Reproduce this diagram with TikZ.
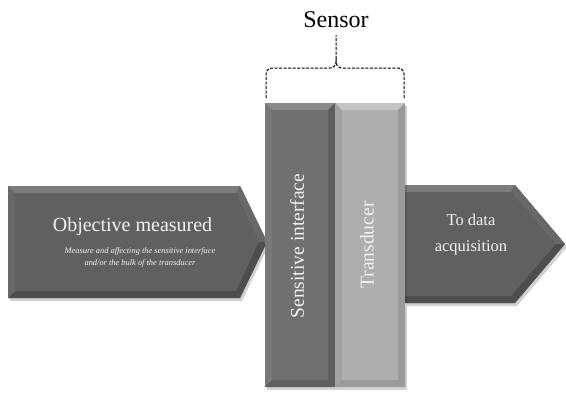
\documentclass[tikz,border=0pt]{standalone}
\usepackage{fontspec}
\setmainfont{Liberation Serif}
\definecolor{darkface}{HTML}{606060}
\definecolor{darktop}{HTML}{7C7C7C}
\definecolor{darkbot}{HTML}{4E4E4E}
\definecolor{darkside}{HTML}{686868}
\definecolor{midface}{HTML}{707070}
\definecolor{midtop}{HTML}{8A8A8A}
\definecolor{midbot}{HTML}{5E5E5E}
\definecolor{midside}{HTML}{787878}
\definecolor{lightface}{HTML}{AEAEAE}
\definecolor{lighttop}{HTML}{C4C4C4}
\definecolor{lightbot}{HTML}{9A9A9A}
\definecolor{lightside}{HTML}{A2A2A2}
\definecolor{txt}{HTML}{F2F2F2}
\tikzset{
  lbl/.style={text=txt, inner sep=0pt, align=center},
  shadowfill/.style={fill=black, opacity=0.18},
  bracket/.style={draw=black, line width=1pt, rounded corners=6pt, dash pattern=on 3pt off 1.5pt}
}
\begin{document}
\begin{tikzpicture}[x=1pt,y=-1pt]
\useasboundingbox (0,0) rectangle (566,394);
% ---------- left arrow ----------
\fill[shadowfill] (10,189) -- (242,189) -- (269,245) -- (242,301) -- (10,301) -- cycle;
\fill[darkface] (8,186) -- (240,186) -- (267,242) -- (240,298) -- (8,298) -- cycle;
\fill[darktop] (8,186) -- (240,186) -- (236,193) -- (15,193) -- cycle;
\fill[darkside] (240,186) -- (267,242) -- (259,242) -- (236,193) -- cycle;
\fill[darkbot] (267,242) -- (240,298) -- (236,291) -- (259,242) -- cycle;
\fill[darkbot] (8,298) -- (240,298) -- (236,291) -- (15,291) -- cycle;
\fill[darkside] (8,186) -- (15,193) -- (15,291) -- (8,298) -- cycle;
% ---------- right arrow ----------
\fill[shadowfill] (407,188) -- (517,188) -- (567,247) -- (517,306) -- (407,306) -- cycle;
\fill[darkface] (405,185) -- (515,185) -- (565,244) -- (515,303) -- (405,303) -- cycle;
\fill[darktop] (405,185) -- (515,185) -- (511,192) -- (405,192) -- cycle;
\fill[darkside] (515,185) -- (565,244) -- (556,244) -- (511,192) -- cycle;
\fill[darkbot] (565,244) -- (515,303) -- (511,296) -- (556,244) -- cycle;
\fill[darkbot] (405,303) -- (515,303) -- (511,296) -- (405,296) -- cycle;
% ---------- sensor blocks ----------
\fill[shadowfill] (267,106) rectangle (407,390);
% sensitive interface
\fill[midface] (265,103) rectangle (335,387);
\fill[midtop] (265,103) -- (335,103) -- (328,110) -- (272,110) -- cycle;
\fill[midside] (265,103) -- (272,110) -- (272,380) -- (265,387) -- cycle;
\fill[midbot] (335,103) -- (335,387) -- (328,380) -- (328,110) -- cycle;
\fill[midbot] (265,387) -- (335,387) -- (328,380) -- (272,380) -- cycle;
% transducer
\fill[lightface] (335,103) rectangle (405,387);
\fill[lighttop] (335,103) -- (405,103) -- (398,110) -- (342,110) -- cycle;
\fill[lightside] (335,103) -- (342,110) -- (342,380) -- (335,387) -- cycle;
\fill[lightbot] (405,103) -- (405,387) -- (398,380) -- (398,110) -- cycle;
\fill[lightbot] (335,387) -- (405,387) -- (398,380) -- (342,380) -- cycle;
% ---------- texts ----------
\node[lbl, font=\fontsize{20}{22}\selectfont] (obj) at (132.5,227) {Objective measured};
\node[lbl, font=\fontsize{8.4}{12}\itshape] (objsub) at (140,257) {Measure and affecting the sensitive interface\\and/or the bulk of the transducer};
\node[lbl, font=\fontsize{19.5}{22}\selectfont, rotate=90] (sens) at (297,246) {Sensitive interface};
\node[lbl, font=\fontsize{19.5}{22}\selectfont, rotate=90] (trans) at (367,245) {Transducer};
\node[lbl, font=\fontsize{16.5}{26}\selectfont] (out) at (471,235) {To data\\acquisition};
\node[inner sep=0pt, font=\fontsize{24}{26}\selectfont] (sensor) at (336,20) {Sensor};
% ---------- dashed bracket ----------
\coordinate (bl) at (266,98);
\coordinate (br) at (404,98);
\coordinate (bm) at (336,35);
\draw[bracket] (bl) -- (266,68) -- (336,68) -- (bm);
\draw[bracket] (br) -- (404,68) -- (336,68) -- (336,58);
\end{tikzpicture}
\end{document}
